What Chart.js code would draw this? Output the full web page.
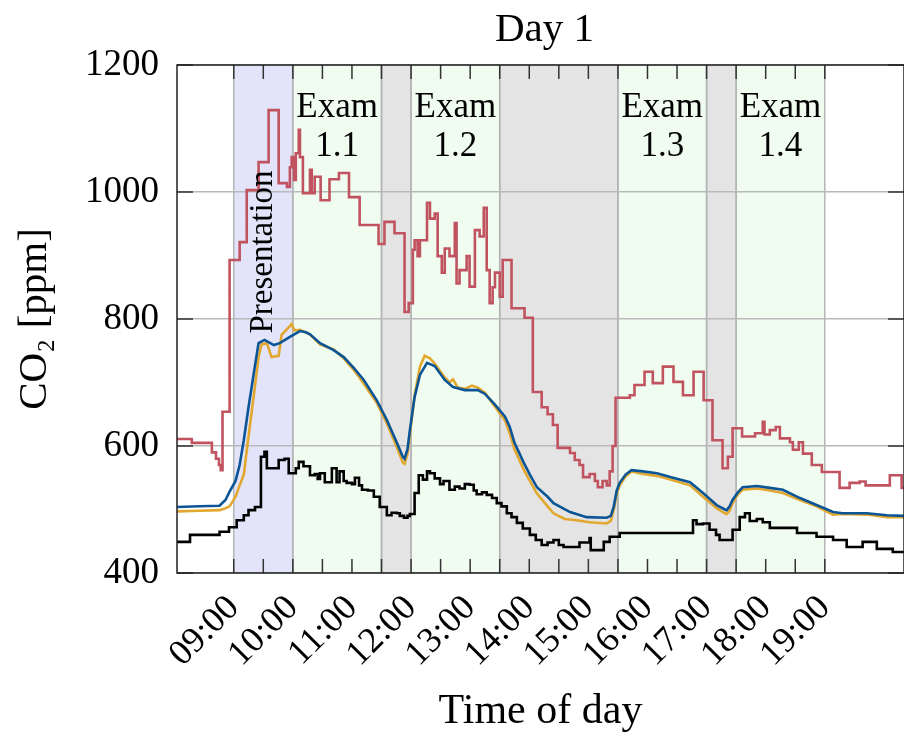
<!DOCTYPE html>
<html>
<head>
<meta charset="utf-8">
<script src="https://cdn.jsdelivr.net/npm/chart.js@4.4.0/dist/chart.umd.min.js"></script>
<style>
  html, body { margin: 0; padding: 0; background: #fff; }
  #wrap { width: 904px; height: 733px; }
</style>
</head>
<body>
<div id="wrap"><canvas id="c" width="904" height="733"></canvas></div>
<script>
// time of day in decimal hours, CO2 in ppm
const redT = [8.04, 8.29, 8.63, 8.70, 8.75, 8.78, 8.81, 8.93, 9.10, 9.22,
  9.42, 9.59, 9.76, 9.90, 9.95, 9.98, 10.02, 10.05, 10.10, 10.12,
  10.17, 10.29, 10.32, 10.37, 10.47, 10.62, 10.78, 10.95, 11.13, 11.45,
  11.55, 11.72, 11.89, 11.96, 12.03, 12.06, 12.11, 12.15, 12.27, 12.32,
  12.40, 12.45, 12.52, 12.57, 12.65, 12.74, 12.77, 12.82, 12.94, 12.99,
  13.08, 13.16, 13.23, 13.28, 13.33, 13.38, 13.42, 13.50, 13.55, 13.70,
  13.92, 14.06, 14.21, 14.31, 14.40, 14.48, 14.69, 14.77, 14.85, 14.91,
  15.02, 15.11, 15.16, 15.24, 15.31, 15.36, 15.41, 15.46, 15.70, 15.78,
  15.95, 16.09, 16.26, 16.44, 16.60, 16.78, 16.95, 17.10, 17.27, 17.36,
  17.44, 17.60, 17.82, 17.95, 17.98, 18.07, 18.17, 18.24, 18.41, 18.46,
  18.56, 18.63, 18.78, 18.95, 19.25, 19.42, 19.59, 19.69, 19.93, 20.10,
  20.30, 20.35];
const redPpm = [611, 605, 590, 580, 570, 562, 654, 893, 921, 1003,
  1047, 1129, 1014, 1008, 1039, 1055, 1019, 1061, 1098, 1055,
  998, 1035, 998, 1024, 987, 1020, 1030, 992, 948, 918,
  953, 935, 811, 825, 909, 924, 899, 924, 983, 958,
  966, 899, 873, 911, 899, 951, 856, 877, 899, 851,
  940, 930, 975, 877, 825, 850, 873, 835, 893, 817,
  802, 685, 661, 650, 633, 597, 589, 578, 570, 551,
  556, 545, 535, 545, 538, 560, 600, 676, 680, 696,
  717, 699, 725, 701, 680, 717, 672, 609, 565, 583,
  628, 615, 620, 638, 618, 625, 630, 612, 606, 594,
  606, 588, 570, 559, 534, 542, 544, 538, 538, 554,
  534, 534];

const blueT = [8.04, 8.42, 8.76, 8.86, 8.93, 9.03, 9.10, 9.17, 9.25, 9.34,
  9.42, 9.52, 9.68, 9.78, 9.95, 10.12, 10.22, 10.29, 10.46, 10.69,
  10.86, 11.03, 11.20, 11.42, 11.59, 11.76, 11.86, 11.89, 11.94, 11.98,
  12.06, 12.15, 12.27, 12.40, 12.57, 12.71, 12.91, 13.13, 13.25, 13.42,
  13.59, 13.67, 13.75, 13.91, 14.01, 14.13, 14.31, 14.41, 14.69, 14.97,
  15.31, 15.38, 15.43, 15.48, 15.53, 15.63, 15.73, 15.92, 16.16, 16.43,
  16.72, 16.94, 17.17, 17.31, 17.34, 17.39, 17.44, 17.53, 17.61, 17.85,
  18.07, 18.29, 18.58, 18.86, 19.14, 19.30, 19.71, 20.05, 20.35];
const bluePpm = [504, 505, 506, 515, 528, 545, 570, 609, 661, 715,
  762, 767, 759, 762, 772, 781, 779, 776, 762, 751,
  740, 723, 704, 672, 641, 605, 583, 580, 595, 625,
  677, 712, 731, 726, 704, 693, 688, 688, 682, 665,
  646, 630, 605, 573, 555, 535, 520, 510, 496, 488,
  487, 490, 505, 530, 542, 555, 562, 560, 557, 550,
  543, 526, 507, 500, 499, 505, 515, 527, 535, 537,
  534, 531, 518, 507, 496, 494, 494, 491, 490];

const yellowT = [8.04, 8.42, 8.76, 8.86, 8.93, 9.03, 9.10, 9.17, 9.25, 9.34,
  9.42, 9.47, 9.56, 9.64, 9.76, 9.81, 9.91, 9.98, 10.03, 10.12,
  10.22, 10.29, 10.46, 10.69, 10.86, 11.03, 11.20, 11.42, 11.59, 11.76,
  11.86, 11.89, 11.94, 11.98, 12.06, 12.15, 12.23, 12.32, 12.40, 12.49,
  12.57, 12.65, 12.71, 12.79, 12.91, 13.03, 13.13, 13.25, 13.42, 13.59,
  13.67, 13.75, 13.91, 14.01, 14.13, 14.31, 14.41, 14.60, 14.80, 15.02,
  15.31, 15.38, 15.43, 15.48, 15.53, 15.63, 15.73, 15.92, 16.16, 16.43,
  16.72, 16.94, 17.17, 17.31, 17.34, 17.39, 17.44, 17.53, 17.61, 17.85,
  18.07, 18.29, 18.58, 18.86, 19.14, 19.30, 19.71, 20.05, 20.35];
const yellowPpm = [497, 498, 499, 502, 505, 520, 538, 555, 615, 680,
  740, 760, 762, 740, 742, 775, 785, 792, 782, 783,
  779, 776, 760, 752, 738, 720, 698, 668, 636, 598,
  574, 572, 588, 618, 680, 725, 742, 738, 730, 718,
  708, 700, 705, 692, 690, 695, 692, 684, 662, 640,
  620, 595, 562, 545, 525, 505, 494, 485, 483, 480,
  478, 482, 500, 525, 538, 552, 560, 556, 553, 546,
  538, 520, 502, 494, 493, 498, 510, 524, 531, 533,
  530, 526, 515, 505, 492, 493, 492, 488, 488];

const blackT = [8.04, 8.26, 8.76, 8.92, 9.05, 9.17, 9.25, 9.36, 9.46, 9.52,
  9.56, 9.76, 9.86, 9.93, 10.05, 10.10, 10.18, 10.29, 10.37, 10.42,
  10.46, 10.54, 10.66, 10.74, 10.79, 10.86, 10.91, 11.00, 11.05, 11.12,
  11.17, 11.27, 11.37, 11.47, 11.59, 11.67, 11.76, 11.81, 11.88, 11.94,
  11.98, 12.06, 12.13, 12.20, 12.27, 12.32, 12.40, 12.49, 12.55, 12.65,
  12.74, 12.82, 12.91, 12.99, 13.06, 13.11, 13.20, 13.28, 13.37, 13.45,
  13.53, 13.62, 13.70, 13.79, 13.89, 14.01, 14.11, 14.21, 14.31, 14.41,
  14.50, 14.58, 14.85, 15.02, 15.04, 15.26, 15.36, 15.53, 16.77, 16.83,
  16.94, 17.05, 17.16, 17.22, 17.44, 17.56, 17.65, 17.73, 17.85, 17.95,
  18.07, 18.53, 18.86, 19.14, 19.37, 19.64, 19.88, 20.15, 20.35];
const blackPpm = [449, 460, 465, 472, 483, 491, 499, 504, 583, 591,
  565, 578, 580, 557, 565, 575, 568, 554, 556, 548,
  557, 543, 565, 543, 560, 545, 542, 540, 550, 538,
  531, 530, 520, 504, 491, 495, 494, 490, 487, 490,
  493, 526, 554, 547, 560, 557, 549, 540, 545, 531,
  536, 533, 540, 539, 530, 524, 527, 523, 518, 510,
  505, 494, 488, 479, 470, 460, 452, 444, 448, 452,
  444, 441, 448, 455, 436, 449, 457, 463, 483, 477,
  478, 468, 460, 452, 468, 488, 494, 482, 485, 480,
  471, 463, 457, 452, 441, 449, 438, 433, 433];

const tickLabels = ['09:00', '10:00', '11:00', '12:00', '13:00', '14:00',
  '15:00', '16:00', '17:00', '18:00', '19:00'];
const yTicks = [400, 600, 800, 1000, 1200];

// schedule bands
const bandFrom = [9, 10, 11.5, 12, 13.5, 15.5, 17, 17.5];
const bandTo = [10, 11.5, 12, 13.5, 15.5, 17, 17.5, 19];
const bandKind = ['talk', 'exam', 'pause', 'exam', 'pause', 'exam', 'pause', 'exam'];
const bandName = ['Presentation', 'Exam 1.1', '', 'Exam 1.2', '', 'Exam 1.3', '', 'Exam 1.4'];
const bandFill = { talk: '#e3e3fa', exam: '#f1fcf1', pause: '#e4e4e4' };

const SERIF = '"Liberation Serif", "DejaVu Serif", serif';
Chart.defaults.font.family = SERIF;
Chart.defaults.color = '#000';

const pts = (t, v) => t.map((x, i) => ({ x, y: v[i] }));
const hourOf = s => parseInt(s.slice(0, 2), 10);

// ticks every half hour, labels on the full hours
const xTickVals = [];
tickLabels.forEach((s, i) => {
  xTickVals.push(hourOf(s));
  if (i < tickLabels.length - 1) xTickVals.push(hourOf(s) + 0.5);
});

const bands = {
  id: 'bands',
  beforeDraw(chart) {
    const { ctx, chartArea: a, scales: { x } } = chart;
    ctx.save();
    bandFrom.forEach((f, i) => {
      const x0 = x.getPixelForValue(f), x1 = x.getPixelForValue(bandTo[i]);
      ctx.fillStyle = bandFill[bandKind[i]];
      ctx.fillRect(x0, a.top, x1 - x0, a.bottom - a.top);
    });
    ctx.strokeStyle = '#b5b5b5';
    ctx.lineWidth = 1.5;
    bandFrom.forEach((f, i) => {
      [f, bandTo[i]].forEach(v => {
        const px = x.getPixelForValue(v);
        ctx.beginPath();
        ctx.moveTo(px, a.top);
        ctx.lineTo(px, a.bottom);
        ctx.stroke();
      });
    });
    ctx.restore();
  },
  afterDatasetsDraw(chart) {
    const { ctx, chartArea: a, scales: { x } } = chart;
    ctx.save();
    ctx.fillStyle = '#000';
    ctx.textAlign = 'center';
    ctx.textBaseline = 'middle';
    bandName.forEach((name, i) => {
      if (!name) return;
      const cx = (x.getPixelForValue(bandFrom[i]) + x.getPixelForValue(bandTo[i])) / 2;
      if (bandKind[i] === 'exam') {
        const [w, n] = name.split(' ');
        ctx.font = '35px ' + SERIF;
        ctx.fillText(w, cx, a.top + 43);
        ctx.fillText(n, cx, a.top + 82);
      } else {
        ctx.font = '33px ' + SERIF;
        ctx.translate(cx, a.top + 187);
        ctx.rotate(-Math.PI / 2);
        ctx.fillText(name, 0, 0);
        ctx.setTransform(1, 0, 0, 1, 0, 0);
      }
    });
    ctx.restore();
  },
  afterDraw(chart) {
    const { ctx, chartArea: a, scales: { x, y } } = chart;
    ctx.save();
    ctx.strokeStyle = '#333';
    ctx.lineWidth = 1.5;
    ctx.beginPath();
    xTickVals.forEach(v => {
      const px = x.getPixelForValue(v);
      ctx.moveTo(px, a.bottom); ctx.lineTo(px, a.bottom - 14);
      ctx.moveTo(px, a.top); ctx.lineTo(px, a.top + 14);
    });
    yTicks.forEach(v => {
      const py = y.getPixelForValue(v);
      ctx.moveTo(a.left, py); ctx.lineTo(a.left + 16, py);
      ctx.moveTo(a.right, py); ctx.lineTo(a.right - 16, py);
    });
    ctx.stroke();
    ctx.strokeStyle = '#222';
    ctx.strokeRect(a.left, a.top, a.right - a.left, a.bottom - a.top);
    ctx.fillStyle = '#000';
    ctx.font = '41px ' + SERIF;
    ctx.textAlign = 'center';
    ctx.textBaseline = 'middle';
    ctx.fillText('Day 1', (a.left + a.right) / 2 + 4, a.top - 35);
    ctx.restore();
  }
};

const line = (data, color, stepped) => ({
  data, borderColor: color, borderWidth: 2.6, pointRadius: 0,
  tension: 0, stepped, fill: false
});

new Chart(document.getElementById('c'), {
  type: 'line',
  data: {
    datasets: [
      line(pts(blackT, blackPpm), '#000000', true),
      line(pts(blueT, bluePpm), '#0b5596', false),
      line(pts(yellowT, yellowPpm), '#e2a72e', false),
      line(pts(redT, redPpm), '#c0535f', true)
    ]
  },
  options: {
    responsive: false,
    animation: false,
    layout: { padding: { top: 65, left: 0, right: 0, bottom: 0 } },
    plugins: { legend: { display: false }, tooltip: { enabled: false } },
    scales: {
      x: {
        type: 'linear',
        min: 8.04,
        max: 20.34,
        afterFit: s => { s.height = 160; },
        afterBuildTicks: s => { s.ticks = xTickVals.map(v => ({ value: v })); },
        grid: { display: false },
        border: { display: false },
        ticks: {
          autoSkip: false,
          maxRotation: 45,
          minRotation: 45,
          padding: 6,
          font: { size: 36 },
          callback: v => Number.isInteger(v) ? tickLabels[v - 9] : ''
        },
        title: {
          display: true, text: 'Time of day',
          font: { size: 42, lineHeight: 1 },
          padding: { top: 0, bottom: 0 }
        }
      },
      y: {
        min: 400,
        max: 1200,
        afterFit: s => { s.width = 177; },
        afterBuildTicks: s => { s.ticks = yTicks.map(v => ({ value: v })); },
        grid: { color: '#b9b9b9', lineWidth: 1.5, drawTicks: false },
        border: { display: false },
        ticks: { padding: 18, font: { size: 37 }, callback: v => String(v) },
        title: {
          display: true, text: 'CO\u2082 [ppm]',
          font: { size: 41, lineHeight: 1 },
          padding: { top: 15, bottom: 0 }
        }
      }
    }
  },
  plugins: [bands]
});
</script>
</body>
</html>
